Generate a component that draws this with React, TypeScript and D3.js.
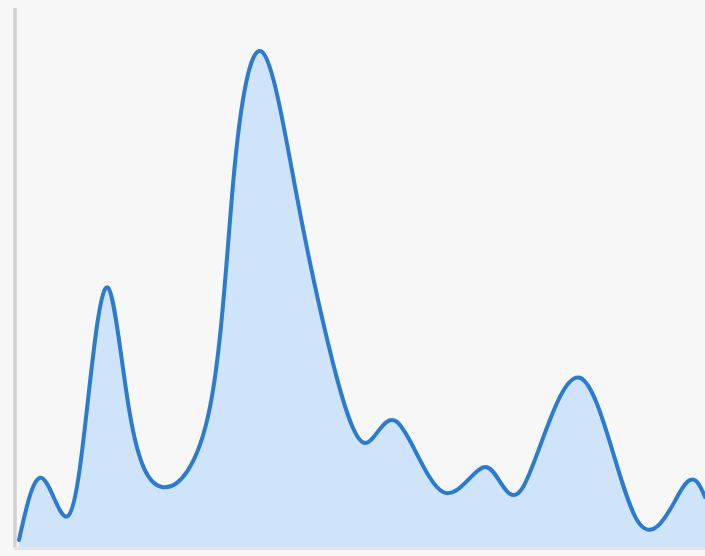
import React from "react";
import * as d3 from "d3";

// x positions (0–100) and values (0–100)
const xs = [0.58, 3.91, 7.68, 10.58, 13.48, 16.67, 21.45, 28.26, 31.88, 35.94, 40.87, 46.09, 50.72, 55.36, 62.03, 68.41, 73.62, 81.88, 90.14, 96.81, 100];
const values = [1.3, 12.8, 5.75, 27.3, 48.1, 24.5, 11.1, 26.0, 71.2, 91.7, 64.9, 34.1, 19.3, 23.2, 10.2, 14.8, 11.1, 31.4, 5.0, 11.1, 9.3];

const W = 705;
const H = 556;

export default function App() {
  const x = d3.scaleLinear().domain([0, 100]).range([15, 705]);
  const y = d3.scaleLinear().domain([0, 100]).range([547, 8]);
  const data = xs.map((v, i) => ({ x: v, v: values[i] }));
  const curve = d3.curveNatural;
  const area = d3
    .area<{ x: number; v: number }>()
    .x((d) => x(d.x))
    .y0(y(0))
    .y1((d) => y(d.v))
    .curve(curve);
  const line = d3
    .line<{ x: number; v: number }>()
    .x((d) => x(d.x))
    .y((d) => y(d.v))
    .curve(curve);
  return (
    <svg
      width={W}
      height={H}
      style={{ position: "absolute", left: 0, top: 0, display: "block" }}
    >
      <rect x={0} y={0} width={W} height={H} fill="#f7f7f7" />
      <path d={area(data) || ""} fill="#cfe4fa" />
      <line x1={15} x2={15} y1={8} y2={548} stroke="#d2d2d2" strokeWidth={3.5} />
      <line x1={14} x2={705} y1={548.5} y2={548.5} stroke="#e4e4e4" strokeWidth={3} />
      <path
        d={line(data) || ""}
        fill="none"
        stroke="#2b7bd1"
        strokeWidth={4}
        strokeLinejoin="round"
        strokeLinecap="round"
      />
    </svg>
  );
}
